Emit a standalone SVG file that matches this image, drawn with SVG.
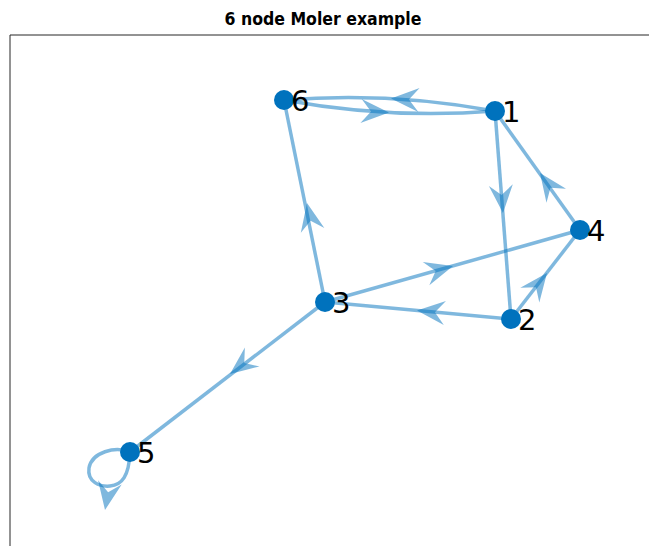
<svg xmlns="http://www.w3.org/2000/svg" width="649" height="546" viewBox="0 0 649 546">
<style>
.edge{fill:none;stroke:#0072BD;stroke-opacity:0.5;stroke-width:3.5}
.arr{fill:#0072BD;fill-opacity:0.5;stroke:none}
.node{fill:#0072BD}
.lbl{font-family:"DejaVu Sans",sans-serif;font-size:29px;fill:#000}
.title{font-family:"DejaVu Sans",sans-serif;font-stretch:condensed;font-size:17.5px;font-weight:bold;fill:#000}
</style>
<defs>
<path id="ah" d="M0,0 L-28,-12 L-18,0 L-28,12 Z"/>
</defs>
<rect x="0" y="0" width="649" height="546" fill="#fff"/>
<text class="title" x="323" y="25" text-anchor="middle">6 node Moler example</text>
<path d="M10,546 V35 H649" fill="none" stroke="#262626" stroke-width="1"/>
<g id="connectors">
<path class="edge" d="M495,111 Q390.2,91.5 284,100"/>
<path class="edge" d="M284,100 Q388.8,119.5 495,111"/>
<path class="edge" d="M495,111 L511,319"/>
<path class="edge" d="M580,230 L495,111"/>
<path class="edge" d="M511,319 L580,230"/>
<path class="edge" d="M511,319 L325,302"/>
<path class="edge" d="M325,302 L580,230"/>
<path class="edge" d="M325,302 L284,100"/>
<path class="edge" d="M325,302 L130,452"/>
<path class="edge" d="M130,452 C115,446 92,452 89,468 C87,482 100,487 110,486 C122,485 129,476 130,452"/>
<use href="#ah" class="arr" transform="translate(391,98.5) rotate(183)"/>
<use href="#ah" class="arr" transform="translate(389,112.5) rotate(3)"/>
<use href="#ah" class="arr" transform="translate(503,213) rotate(85.6)"/>
<use href="#ah" class="arr" transform="translate(540,173) rotate(-125.5)"/>
<use href="#ah" class="arr" transform="translate(547,273) rotate(-52.2)"/>
<use href="#ah" class="arr" transform="translate(417,310.5) rotate(-174.8)"/>
<use href="#ah" class="arr" transform="translate(453,266) rotate(-15.8)"/>
<use href="#ah" class="arr" transform="translate(307,203) rotate(-101.5)"/>
<use href="#ah" class="arr" transform="translate(230,374) rotate(142.4)"/>
<use href="#ah" class="arr" transform="translate(105,510) rotate(100)"/>
</g>
<g id="node1"><circle class="node" cx="495" cy="111" r="10"/><text class="lbl" x="502" y="122">1</text></g>
<g id="node2"><circle class="node" cx="511" cy="319" r="10"/><text class="lbl" x="518" y="330">2</text></g>
<g id="node3"><circle class="node" cx="325" cy="302" r="10"/><text class="lbl" x="332" y="313">3</text></g>
<g id="node4"><circle class="node" cx="580" cy="230" r="10"/><text class="lbl" x="587" y="241">4</text></g>
<g id="node5"><circle class="node" cx="130" cy="452" r="10"/><text class="lbl" x="137" y="463">5</text></g>
<g id="node6"><circle class="node" cx="284" cy="100" r="10"/><text class="lbl" x="291" y="111">6</text></g>
</svg>
